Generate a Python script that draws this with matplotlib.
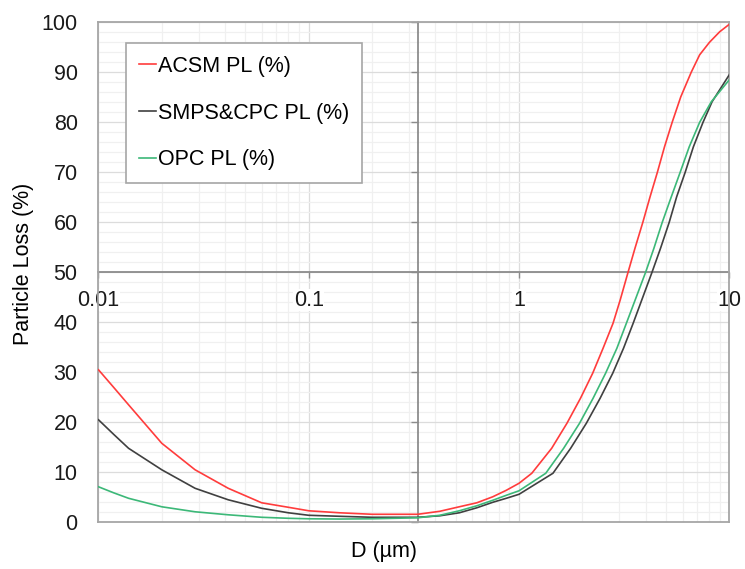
import numpy as np
import matplotlib
matplotlib.use('Agg')
import matplotlib.pyplot as plt
import matplotlib.ticker as ticker

plt.rcParams['font.family'] = ['Liberation Sans', 'DejaVu Sans']
plt.rcParams['font.size'] = 15.5

# data
d_acsm = [0.01, 0.0118, 0.0139, 0.020, 0.0288, 0.0414, 0.0597, 0.08, 0.1, 0.14, 0.2, 0.33,
          0.42, 0.52, 0.63, 0.75, 0.87, 1.0, 1.15, 1.43, 1.69, 1.96, 2.24, 2.51, 2.80,
          3.03, 3.30, 3.56, 3.88, 4.20, 4.55, 4.92, 5.35, 5.88, 6.59, 7.23, 8.05, 9.0, 10]
pl_acsm = [30.5, 27.0, 23.5, 15.8, 10.5, 6.8, 3.9, 3.0, 2.3, 1.9, 1.6, 1.6,
           2.2, 3.1, 3.9, 5.1, 6.4, 7.8, 9.8, 14.8, 19.8, 24.8, 29.8, 34.8, 39.8,
           44.5, 50, 54.8, 60, 65.1, 70, 75.1, 80, 85.1, 90, 93.5, 96, 98.1, 99.6]

d_smps = [0.01, 0.0118, 0.0139, 0.020, 0.0288, 0.0414, 0.0597, 0.08, 0.1, 0.14, 0.2, 0.33,
          0.42, 0.52, 0.63, 0.75, 0.87, 1.0, 1.45, 1.76, 2.09, 2.43, 2.79, 3.14, 3.49,
          4.29, 4.71, 5.18, 5.62, 6.17, 6.75, 7.50, 8.28, 10]
pl_smps = [20.5, 17.6, 14.8, 10.5, 6.8, 4.5, 2.8, 1.9, 1.4, 1.2, 1.0, 1.0,
           1.3, 1.9, 2.9, 4.0, 4.8, 5.6, 9.8, 14.8, 19.8, 24.8, 29.8, 34.8, 39.8,
           50, 54.8, 60, 65.1, 70, 75.1, 80, 84.1, 89.5]

d_opc = [0.01, 0.0118, 0.0139, 0.020, 0.0288, 0.0414, 0.0597, 0.08, 0.1, 0.14, 0.2, 0.33,
         0.42, 0.52, 0.63, 0.75, 0.87, 1.0, 1.34, 1.63, 1.94, 2.25, 2.58, 2.92, 3.24,
         4.00, 4.38, 4.80, 5.30, 5.84, 6.45, 7.23, 8.21, 10]
pl_opc = [7.1, 5.9, 4.8, 3.1, 2.1, 1.5, 1.0, 0.8, 0.7, 0.65, 0.7, 0.9,
          1.4, 2.3, 3.3, 4.4, 5.4, 6.3, 9.8, 14.8, 19.8, 24.8, 29.8, 34.8, 39.8,
          50, 54.8, 60, 65.1, 70, 75.1, 80, 84.1, 88.5]

labels = ['ACSM PL (%)', 'SMPS&CPC PL (%)', 'OPC PL (%)']
colors = ['#ff3c3c', '#404040', '#3cb878']

x_min, x_max = 0.01, 10
y_min, y_max = 0, 100
x_cross = 0.33   # where the vertical axis crosses
y_cross = 50     # where the horizontal axis crosses
x_ticks = [0.01, 0.1, 1, 10]
x_ticklabels = ['0.01', '0.1', '1', '10']
y_ticks = np.arange(0, 101, 10)

axis_gray = '#a6a6a6'
cross_gray = '#8c8c8c'

fig = plt.figure(figsize=(7.45, 5.69), dpi=100)
ax = fig.add_axes([0.1322, 0.0821, 0.8467, 0.8787])

for d, pl, lab, c in zip([d_acsm, d_smps, d_opc], [pl_acsm, pl_smps, pl_opc], labels, colors):
    ax.plot(d, pl, color=c, lw=1.2, label=lab, zorder=5)

ax.set_xscale('log')
ax.set_xlim(x_min, x_max)
ax.set_ylim(y_min, y_max)
ax.xaxis.set_minor_locator(ticker.LogLocator(base=10, subs=range(2, 10)))
ax.yaxis.set_major_locator(ticker.FixedLocator(y_ticks))
ax.yaxis.set_minor_locator(ticker.MultipleLocator(2))
ax.grid(which='major', color='#dcdcdc', lw=0.9)
ax.grid(which='minor', color='#f0f0f0', lw=0.9)
ax.set_axisbelow(True)
ax.tick_params(which='both', length=0)
ax.tick_params(axis='x', labelbottom=False)
ax.tick_params(axis='y', pad=15, labelcolor='#1a1a1a')
for s in ax.spines.values():
    s.set_color(axis_gray)
    s.set_linewidth(1.3)

# horizontal axis crossing at y=50
frac_y = (y_cross - y_min) / (y_max - y_min)
sec_x = ax.secondary_xaxis(frac_y)
sec_x.set_zorder(2)
sec_x.set_alignment('bottom')
sec_x.set_ticks(x_ticks, labels=x_ticklabels)
sec_x.xaxis.set_minor_locator(ticker.NullLocator())
sec_x.tick_params(direction='out', length=4.5, width=1, color=cross_gray, pad=8,
                  labelsize=15.5, labelcolor='#1a1a1a')
sec_x.spines['bottom'].set_color(cross_gray)
sec_x.spines['bottom'].set_linewidth(1.3)
for lbl in sec_x.get_xticklabels():
    lbl.set_bbox(dict(facecolor='white', edgecolor='none', pad=0.5))

# vertical axis crossing at x=0.33
frac_x = (np.log10(x_cross) - np.log10(x_min)) / (np.log10(x_max) - np.log10(x_min))
sec_y = ax.secondary_yaxis(frac_x)
sec_y.set_zorder(2)
sec_y.set_alignment('left')
sec_y.set_ticks(y_ticks)
sec_y.tick_params(direction='out', length=5, width=1, color=cross_gray, labelleft=False)
sec_y.spines['left'].set_color(cross_gray)
sec_y.spines['left'].set_linewidth(1.3)

ax.set_xlabel('D (µm)')
ax.xaxis.set_label_coords(0.452, -0.038)
ax.set_ylabel('Particle Loss (%)')
ax.yaxis.set_label_coords(-0.103, 0.517)

leg = ax.legend(loc='upper left', bbox_to_anchor=(0.043, 0.959), borderaxespad=0,
                fancybox=False, edgecolor=axis_gray, framealpha=1,
                handlelength=0.8, handletextpad=0.1, labelspacing=1.2, borderpad=0.6)
leg.get_frame().set_linewidth(1.2)
leg.set_zorder(10)

plt.savefig('out.png', dpi=100)
